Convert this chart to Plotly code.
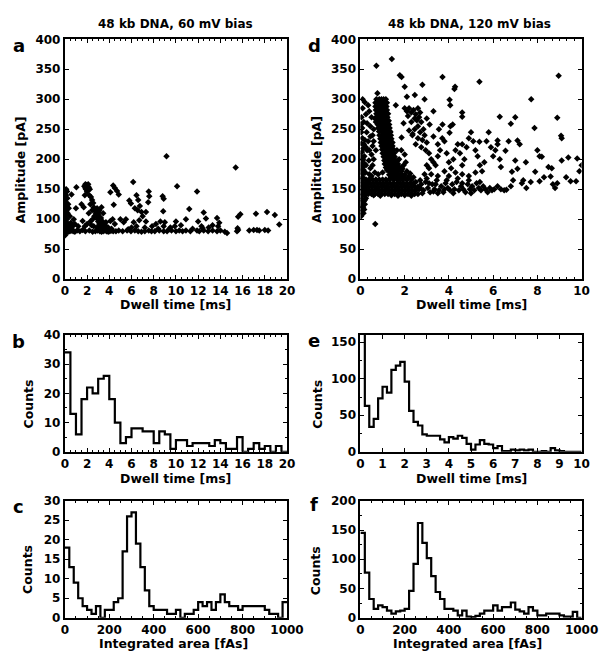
import plotly.graph_objects as go

# ---------------- data ----------------
# Panel a: 48 kb DNA, 60 mV bias  (dwell time [ms], amplitude [pA])
a_points = [
    (0.05,76),(0.1,78),(0.2,80),(0.3,79),(0.45,80),(0.6,81),(0.75,80),(0.9,79),(1.1,81),(1.35,80),
    (1.6,82),(1.85,80),(2.2,81),(2.5,79),(2.75,80),(2.95,81),(3.15,80),(3.3,79),(3.45,80),(3.6,81),
    (3.75,80),(3.9,79),(4.05,80),(4.2,81),(4.35,80),(4.6,80),(4.85,81),(5.2,80),(5.6,81),(5.95,80),
    (6.3,81),(6.6,80),(6.9,79),(7.2,80),(7.55,81),(7.8,80),(8.1,80),(8.5,81),(8.9,80),(9.2,80),
    (9.6,81),(10.0,80),(10.3,81),(10.6,80),(10.9,81),(11.3,80),(11.9,81),(12.1,80),(12.5,81),(12.9,80),
    (13.3,81),(13.7,80),(14.0,81),(14.4,79),(14.6,77),(15.5,80),(15.6,82),(16.6,81),(17.0,82),(17.3,82),
    (17.5,81),(18.0,82),(18.3,81),
    (0.03,73),(0.08,84),(0.05,88),(0.12,92),(0.04,97),(0.1,102),(0.06,108),(0.12,113),(0.04,118),(0.1,122),
    (0.15,127),(0.05,133),(0.1,140),(0.2,146),(0.12,150),(0.25,86),(0.3,92),(0.35,84),(0.5,88),(0.6,85),
    (0.55,94),(0.7,88),(0.25,110),(0.3,125),(0.35,118),(0.6,141),(0.9,92),(1.0,118),(1.04,153),(0.8,100),
    (1.2,88),(0.45,105),(0.02,80),(0.15,82),(0.08,95),(0.18,100),(0.2,120),(0.02,112),(0.22,135),
    (1.75,155),(1.85,158),(1.95,157),(2.05,155),(2.15,153),(2.25,150),(1.9,150),(2.0,146),(1.8,140),(1.5,125),
    (1.7,120),(2.2,140),(2.35,137),(2.45,132),(2.55,127),(2.3,125),(2.6,120),(2.45,115),(2.7,114),(2.8,110),
    (2.65,105),(2.9,118),(3.0,108),(2.95,100),(3.1,104),(3.0,96),(3.2,98),(3.1,92),(3.3,94),(3.2,88),
    (3.4,90),(3.35,85),(3.5,87),(3.6,84),(3.7,88),(3.8,83),(3.55,92),(3.9,86),(4.0,83),(4.2,84),
    (2.5,100),(2.3,96),(2.0,92),(1.8,88),(2.6,88),(2.9,86),(1.6,97),(2.15,110),(2.4,90),(3.7,95),
    (4.1,97),(4.5,92),(4.3,100),(3.45,110),(3.1,115),(3.3,120),(1.85,152),(2.1,158),(2.0,152),(2.85,104),
    (3.05,112),(3.25,102),(3.4,96),(3.6,90),
    (4.1,145),(4.35,156),(4.5,152),(4.7,147),(4.85,141),(4.4,124),(5.0,100),(5.3,95),(5.5,100),(5.8,131),
    (5.95,126),(6.15,162),(6.3,118),(6.45,140),(6.6,132),(6.55,115),(6.75,122),(6.9,112),(7.0,105),(6.7,98),
    (6.2,95),(6.0,86),(6.45,88),(7.3,96),(7.55,146),(7.6,138),(7.5,128),(7.3,112),(7.85,88),(8.2,92),
    (8.4,84),(8.6,96),(8.8,138),(8.9,134),(8.85,113),(9.0,95),(8.9,88),(9.15,205),(9.5,86),(9.9,88),
    (10.1,155),(10.0,96),(10.45,90),(10.9,100),(11.2,117),(11.9,146),(12.0,96),(12.3,88),(12.5,111),(12.7,101),
    (12.95,86),(13.3,90),(13.7,102),(13.9,94),(13.8,88),(15.38,186),(15.55,85),(15.6,104),(15.8,108),(17.2,109),
    (18.2,112),(18.9,107),(19.3,91),(7.2,86),(5.7,83),(9.4,83),(11.5,84),(12.4,85),
]

# Panel d: 48 kb DNA, 120 mV bias
d_points = [
    # column near zero
    (0.03,105),(0.05,112),(0.03,118),(0.07,122),(0.04,128),(0.08,133),(0.03,138),(0.06,143),(0.1,148),(0.04,152),
    (0.08,157),(0.12,160),(0.03,165),(0.07,170),(0.11,175),(0.04,180),(0.08,186),(0.05,192),(0.1,198),(0.03,205),
    (0.07,212),(0.12,218),(0.05,226),(0.09,235),(0.04,245),(0.08,252),(0.15,262),(0.05,270),(0.1,285),(0.2,295),
    (0.15,130),(0.18,140),(0.2,150),(0.15,168),(0.22,178),(0.25,190),(0.18,205),(0.3,215),(0.35,230),(0.28,245),
    (0.12,120),(0.2,125),(0.25,135),(0.3,145),(0.28,158),(0.35,165),(0.4,175),(0.45,185),(0.38,198),(0.5,208),
    (0.55,222),(0.45,238),(0.6,250),(0.4,280),(0.65,268),(0.55,190),(0.6,200),(0.7,215),(0.65,178),
    (0.14,110),(0.17,116),(0.2,132),(0.16,148),(0.22,160),(0.14,182),(0.2,192),(0.12,200),(0.16,225),(0.02,258),
    (0.1,300),(0.25,275),(0.3,260),(0.45,255),(0.5,270),(0.35,290),(0.55,240),(0.2,232),(0.4,215),(0.6,230),
    (0.25,220),
    # dense band 0.2-2.6 ms
    (0.2,142),(0.35,142),(0.5,142),(0.65,142),(0.8,142),(0.95,142),(1.1,142),(1.25,142),(1.4,142),(1.55,142),
    (1.7,142),(1.85,142),(2.0,142),(2.15,142),(2.3,142),(2.45,142),(2.6,142),
    (0.25,148),(0.4,148),(0.55,148),(0.7,148),(0.85,148),(1.0,148),(1.15,148),(1.3,148),(1.45,148),(1.6,148),
    (1.75,148),(1.9,148),(2.05,148),(2.2,148),(2.35,148),(2.5,148),
    (0.2,154),(0.35,154),(0.5,154),(0.65,154),(0.8,154),(0.95,154),(1.1,154),(1.25,154),(1.4,154),(1.55,154),
    (1.7,154),(1.85,154),(2.0,154),(2.15,154),(2.3,154),(2.45,154),(2.6,154),
    (0.3,160),(0.45,160),(0.6,160),(0.75,160),(0.9,160),(1.05,160),(1.2,160),(1.35,160),(1.5,160),(1.65,160),
    (1.8,160),(1.95,160),(2.1,160),(2.25,160),(2.4,160),
    (0.25,166),(0.4,166),(0.55,166),(0.7,166),(0.85,166),(1.0,166),(1.15,166),(1.3,166),(1.5,166),(1.7,166),
    (1.9,166),(2.1,166),(2.3,166),
    (0.5,172),(0.8,175),(1.0,178),(1.2,182),(0.6,140),(0.9,139),(1.4,140),(1.7,139),(2.0,140),(2.3,139),
    # main diagonal blob
    (0.85,300),(0.95,300),(1.05,300),(0.8,294),(0.9,294),(1.0,294),(1.1,294),(0.78,288),(0.88,288),(0.98,288),
    (1.08,288),(0.8,282),(0.9,282),(1.0,282),(1.1,282),(0.85,276),(0.95,276),(1.05,276),(1.15,276),(0.82,270),
    (0.92,270),(1.02,270),(1.12,270),(0.88,264),(0.98,264),(1.08,264),(1.18,264),(0.9,258),(1.0,258),(1.1,258),
    (1.2,258),(0.92,252),(1.02,252),(1.12,252),(1.22,252),(0.95,246),(1.05,246),(1.15,246),(1.25,246),(0.98,240),
    (1.08,240),(1.18,240),(1.28,240),(1.0,234),(1.1,234),(1.2,234),(1.3,234),(1.02,228),(1.12,228),(1.22,228),
    (1.32,228),(1.05,222),(1.15,222),(1.25,222),(1.35,222),(1.1,216),(1.2,216),(1.3,216),(1.4,216),(1.12,210),
    (1.22,210),(1.32,210),(1.42,210),(1.15,204),(1.25,204),(1.35,204),(1.45,204),(1.18,198),(1.28,198),(1.38,198),
    (1.48,198),(1.58,198),(1.2,192),(1.3,192),(1.4,192),(1.5,192),(1.6,192),(1.25,186),(1.35,186),(1.45,186),
    (1.55,186),(1.65,186),(1.75,186),(1.3,180),(1.4,180),(1.5,180),(1.6,180),(1.7,180),(1.85,180),(1.3,174),
    (1.4,174),(1.5,174),(1.6,174),(1.7,174),(1.8,174),(1.9,174),(2.0,174),(1.35,168),(1.45,168),(1.55,168),
    (1.65,168),(1.75,168),(1.85,168),(1.95,168),(2.05,168),(2.15,168),(2.3,168),
    (0.72,300),(1.15,300),(0.68,294),(1.2,294),(0.68,288),(1.18,288),(0.7,282),(1.2,282),(0.72,276),(1.25,276),
    (0.72,270),(1.22,270),(0.76,264),(1.28,264),(0.78,258),(1.3,258),(0.8,252),(1.32,252),(0.84,246),(1.35,246),
    (0.86,240),(1.38,240),(0.9,234),(1.4,234),(0.92,228),(1.42,228),(0.95,222),(1.45,222),(0.98,216),(1.5,216),
    (1.0,210),(1.52,210),(1.05,204),(1.55,204),(1.08,198),(1.68,198),(1.1,192),(1.7,192),(1.15,186),(1.85,186),
    (2.2,172),(2.4,170),(2.5,162),(1.95,190),(2.05,195),(1.75,200),(1.65,215),(1.85,215),(2.0,208),(0.75,282),
    (0.7,262),(1.35,245),(1.45,228),(1.9,184),(2.1,180),(2.25,176),
    # secondary cluster
    (2.0,285),(2.1,280),(2.2,285),(2.3,278),(2.4,282),(2.5,275),(2.6,285),(2.7,278),(2.45,268),(2.55,265),
    (2.65,270),(2.3,262),(2.15,272),(2.75,262),(2.6,255),(2.85,250),(2.7,245),(2.45,250),(2.9,240),(2.8,232),
    (2.6,235),(3.0,228),(2.95,215),(2.75,220),(3.1,210),(2.5,225),(2.35,240),(2.2,248),
    # scattered 2.5-6 ms
    (3.2,200),(3.3,195),(3.1,185),(3.4,190),(3.5,205),(3.6,215),(3.5,225),(3.7,235),(3.8,230),(3.3,238),
    (3.9,210),(4.0,195),(4.1,185),(4.2,200),(4.3,215),(4.4,225),(4.5,210),(4.6,190),(4.7,200),(4.8,220),
    (4.9,235),(5.0,245),(5.1,230),(5.2,215),(5.3,205),(5.4,190),(5.5,180),(5.6,195),(5.7,230),(5.8,245),
    (5.9,220),(6.0,205),(6.1,215),(6.2,225),(6.3,200),(4.03,244),(4.07,255),(4.17,258),(3.71,258),(3.13,258),
    (2.36,242),(1.86,236),(5.38,229),(6.2,231),(7.1,231),(4.6,225),(3.0,190),(2.9,175),(3.2,175),(3.5,172),
    (3.8,180),(4.0,172),(4.3,178),(4.6,175),(4.9,172),(5.2,178),
    # band continuation
    (2.65,150),(2.75,158),(2.85,148),(2.95,162),(3.05,152),(3.15,145),(3.25,158),(3.35,150),(3.45,165),(3.55,148),
    (3.65,155),(3.75,145),(3.85,160),(3.95,152),(4.05,148),(4.15,158),(4.25,150),(4.35,162),(4.45,148),(4.55,155),
    (4.65,150),(4.75,145),(4.85,158),(4.95,150),(5.05,155),(5.15,148),(5.25,160),(5.35,152),(5.45,148),(5.55,155),
    (5.65,150),(5.75,145),(5.85,152),(5.95,148),(6.05,150),(6.2,155),(6.35,150),(6.5,148),(2.7,165),(3.0,168),
    (3.4,158),(3.9,165),(4.4,168),(4.9,165),(5.4,162),(2.8,143),(3.1,160),(3.5,143),(3.8,150),(4.2,143),
    (4.6,160),(5.0,143),(2.7,152),(3.3,146),
    # far scatter
    (6.3,271),(7.0,270),(6.8,259),(8.9,269),(7.87,252),(9.07,239),(9.1,235),(9.1,198),(9.4,203),(9.8,201),
    (9.5,163),(9.75,163),(8.2,204),(8.1,205),(8.5,187),(8.65,185),(8.6,171),(8.8,152),(8.7,158),(8.1,163),
    (7.9,179),(7.48,195),(7.36,165),(7.3,160),(7.5,152),(7.0,198),(7.1,184),(6.85,179),(6.35,187),(6.56,214),
    (6.6,149),(6.8,155),(7.2,225),(6.7,230),(8.0,215),(8.3,170),(8.9,160),(9.3,170),(9.9,180),(10.0,190),
    (7.7,162),(6.9,165),
    # top outliers
    (1.42,367),(0.72,356),(1.78,340),(1.86,337),(3.71,337),(5.38,329),(8.96,339),(2.0,321),(2.8,324),(4.28,321),
    (4.25,317),(2.1,304),(2.46,307),(2.9,300),(0.77,310),(4.03,299),(7.72,300),(4.6,278),(4.6,271),(3.3,280),
    (4.06,290),(0.67,92),(1.6,290),(3.0,268),(1.95,260),(3.55,250),
]

# Histogram b: dwell time, 60 mV (0.5 ms bins, 0-20 ms)
b_bin_width = 0.5
b_counts = [34,13,6,18,22,20,25,26,18,10,3,5,8,8,7,7,3,7,6,1,
            4,4,2,3,3,3,2,4,3,1,1,5,0,1,3,1,2,0,2,0]

# Histogram e: dwell time, 120 mV (0.2 ms bins, 0-10 ms)
e_bin_width = 0.2
e_counts = [170,63,34,45,73,89,81,112,118,123,96,56,41,36,24,22,22,22,17,13,
            20,18,22,19,11,3,10,16,11,10,5,8,1,1,3,2,3,2,3,0,
            0,1,0,5,2,1,0,0,0,0]

# Histogram c: integrated area, 60 mV (20 fAs bins, 0-1000 fAs)
c_bin_width = 20
c_counts = [18,13,9,5,3,2,1,3,0,2,2,4,5,17,26,27,19,13,7,3,
            2,2,2,1,1,2,0,1,1,2,4,3,4,2,4,6,4,3,3,2,
            3,3,3,3,3,2,1,1,0,4]

# Histogram f: integrated area, 120 mV (20 fAs bins, 0-1000 fAs)
f_bin_width = 20
f_counts = [145,77,32,15,21,18,12,7,11,12,15,46,92,162,128,102,71,44,32,15,
            15,12,4,12,2,1,3,7,12,12,21,12,18,18,26,14,11,7,18,12,
            4,4,7,7,7,4,2,2,10,0]

titles = ["48 kb DNA, 60 mV bias", "48 kb DNA, 120 mV bias"]
panel_letters = ["a", "d", "b", "e", "c", "f"]

# ---------------- figure ----------------
W, H = 616, 658
FONT = "DejaVu Sans, Arial, sans-serif"

def dom_x(left, right):
    return [left / W, right / W]

def dom_y(top, bottom):
    return [1 - bottom / H, 1 - top / H]

fig = go.Figure()

def scatter(points, xa, ya):
    fig.add_trace(go.Scatter(
        x=[p[0] for p in points], y=[p[1] for p in points],
        mode="markers", xaxis=xa, yaxis=ya,
        marker=dict(symbol="diamond", size=5, color="black", line=dict(width=0)),
        showlegend=False, hoverinfo="skip"))

def hist(counts, width, xa, ya):
    edges = [i * width for i in range(len(counts) + 1)]
    fig.add_trace(go.Scatter(
        x=edges, y=list(counts) + [counts[-1]],
        mode="lines", line=dict(shape="hv", color="black", width=2.2),
        xaxis=xa, yaxis=ya, showlegend=False, hoverinfo="skip"))

scatter(a_points, "x", "y")
scatter(d_points, "x2", "y2")
hist(b_counts, b_bin_width, "x3", "y3")
hist(e_counts, e_bin_width, "x4", "y4")
hist(c_counts, c_bin_width, "x5", "y5")
hist(f_counts, f_bin_width, "x6", "y6")

LX = dom_x(63, 293)
RX = dom_x(369, 598)
TY = dom_y(33, 278)
MY = dom_y(335, 454.5)
BY = dom_y(504.5, 624)

def ax(domain, anchor, rng, dtick, minor_dtick=None):
    d = dict(domain=domain, anchor=anchor, range=rng, dtick=dtick, tick0=0,
             showline=True, linecolor="black", linewidth=2, mirror="ticks",
             ticks="inside", ticklen=4, tickwidth=1, tickcolor="black",
             showgrid=False, zeroline=False, fixedrange=True,
             tickfont=dict(family=FONT, size=12, color="black", weight="bold"))
    if minor_dtick:
        d["minor"] = dict(dtick=minor_dtick, tick0=0, ticks="inside", ticklen=2,
                          tickwidth=1, tickcolor="black", showgrid=False)
    return d

fig.update_layout(
    width=W, height=H, autosize=False,
    margin=dict(l=0, r=0, t=0, b=0),
    paper_bgcolor="white", plot_bgcolor="white",
    xaxis=ax(LX, "y", [0, 20], 2, 0.5),
    yaxis=ax(TY, "x", [0, 400], 50),
    xaxis2=ax(RX, "y2", [0, 10], 2, 1/3),
    yaxis2=ax(TY, "x2", [0, 400], 50),
    xaxis3=ax(LX, "y3", [0, 20], 2, 0.5),
    yaxis3=ax(MY, "x3", [0, 40], 10, 5),
    xaxis4=ax(RX, "y4", [0, 10], 1),
    yaxis4=ax(MY, "x4", [0, 160], 50, 25),
    xaxis5=ax(LX, "y5", [0, 1000], 200, 50),
    yaxis5=ax(BY, "x5", [0, 30], 5),
    xaxis6=ax(RX, "y6", [0, 1000], 200, 50),
    yaxis6=ax(BY, "x6", [0, 200], 50, 25),
)

def note(text, x, y, size=12, angle=0):
    fig.add_annotation(text=text,
                       x=x / W, y=1 - y / H, xref="paper", yref="paper",
                       xanchor="center", yanchor="middle", showarrow=False,
                       textangle=angle,
                       font=dict(family=FONT, size=size, color="black", weight="bold"))

note(titles[0], 178, 17, 12)
note(titles[1], 482, 17, 12)

letter_pos = [(15.5, 39), (321, 39), (15.5, 342), (321, 341), (15.5, 510), (321, 508)]
for L, (lx, ly) in zip(panel_letters, letter_pos):
    note(L, lx, ly, 18)

note("Amplitude [pA]", 17.5, 166, 12.5, angle=-90)
note("Amplitude [pA]", 323.5, 166, 12.5, angle=-90)
note("Counts", 25, 406, 12.5, angle=-90)
note("Counts", 324.5, 406, 12.5, angle=-90)
note("Counts", 25, 575, 12.5, angle=-90)
note("Counts", 322.5, 576, 12.5, angle=-90)
note("Dwell time [ms]", 178, 304, 12.5)
note("Dwell time [ms]", 484, 304, 12.5)
note("Dwell time [ms]", 178, 482, 12.5)
note("Dwell time [ms]", 484, 482, 12.5)
note("Integrated area [fAs]", 175, 650, 12.5)
note("Integrated area [fAs]", 480, 650, 12.5)

fig.write_html("out.html")
